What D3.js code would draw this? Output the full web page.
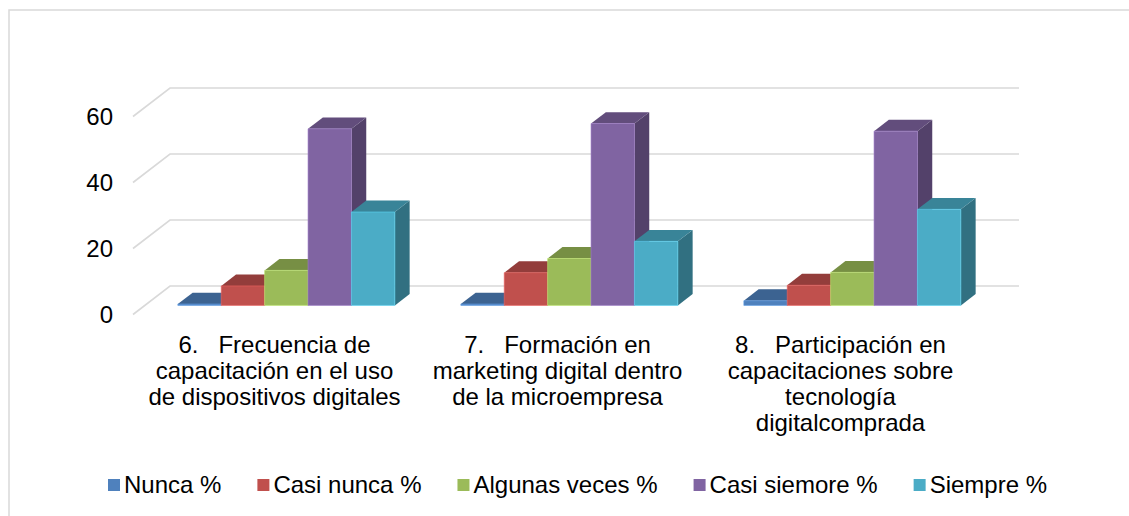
<!DOCTYPE html>
<html>
<head>
<meta charset="utf-8">
<script src="https://cdn.jsdelivr.net/npm/d3@7/dist/d3.min.js"></script>
<style>
  body { margin: 0; background: #fff; }
  svg { display: block; }
  text { font-family: "Liberation Sans", Arial, sans-serif; font-size: 24px; fill: #000; }
</style>
</head>
<body>
<div id="chart"></div>
<script>
// categories, one entry per line of the wrapped label
var categories = [
    ["6.\u00a0\u00a0\u00a0Frecuencia de", "capacitación en el uso", "de dispositivos digitales"],
    ["7.\u00a0\u00a0\u00a0Formación en", "marketing digital dentro", "de la microempresa"],
    ["8.\u00a0\u00a0\u00a0Participación en", "capacitaciones sobre", "tecnología", "digitalcomprada"]
]
var seriesNames = ["Nunca %", "Casi nunca %", "Algunas veces %", "Casi siemore %", "Siempre %"]

// values
var nunca        = [0.4, 0.4, 1.4]
var casiNunca    = [5.9, 9.9, 6.1]
var algunasVeces = [10.6, 14.2, 10.0]
var casiSiempre  = [53.5, 55.1, 52.8]
var siempre      = [28.3, 19.4, 29.1]

var yTicks = [0, 20, 40, 60]
var colors = ["#4F81BD", "#C0504D", "#9BBB59", "#8064A2", "#4BACC6"]

var seriesValues = [nunca, casiNunca, algunasVeces, casiSiempre, siempre]

var width = 1129, height = 516

// oblique 3d set-up
var floorY = 314.5           // front edge of the floor, value 0
var depthX = 37, depthY = -28.5
var barFront = 0.32, barBack = 0.72

var svg = d3.select("#chart").append("svg")
    .attr("width", width)
    .attr("height", height)

var x = d3.scaleBand()
    .domain(d3.range(categories.length))
    .range([133, 982])

var xInner = d3.scaleBand()
    .domain(seriesNames)
    .range([0, x.bandwidth()])
    .paddingOuter(0.76)

var y = d3.scaleLinear()
    .domain([0, 60])
    .range([0, 198])

function proj(px, v, d) {
    return [px + d * depthX, floorY - y(v) + d * depthY]
}

// chart border
svg.append("rect")
    .attr("x", 9).attr("y", 10)
    .attr("width", width + 50).attr("height", height + 50)
    .attr("fill", "none")
    .attr("stroke", "#d9d9d9")
    .attr("stroke-width", 1.5)

var x0 = x.range()[0], x1 = x.range()[1]

// side wall and back wall gridlines
var grid = svg.append("g").attr("class", "grid")
grid.selectAll("path")
    .data(yTicks)
    .enter().append("path")
    .attr("d", function(v) {
        var a = proj(x0, v, 0), b = proj(x0, v, 1), c = proj(x1, v, 1)
        return "M" + a + "L" + b + "L" + c
    })
    .attr("fill", "none")
    .attr("stroke", "#d9d9d9")
    .attr("stroke-width", 1.6)

// y labels
svg.append("g").selectAll("text")
    .data(yTicks)
    .enter().append("text")
    .attr("x", x0 - 20)
    .attr("y", function(v) { return proj(x0, v, 0)[1] })
    .attr("dy", "0.35em")
    .attr("text-anchor", "end")
    .text(function(v) { return v })

// bars, drawn left to right so the later fronts hide earlier sides
var bars = []
categories.forEach(function(cat, ci) {
    seriesNames.forEach(function(s, si) {
        bars.push({ cat: ci, series: si, value: seriesValues[si][ci],
            x: x(ci) + xInner(s), w: xInner.bandwidth() })
    })
})

function poly(pts) { return pts.map(function(p) { return p.join(",") }).join(" ") }

var barG = svg.append("g").attr("class", "bars")
    .selectAll("g")
    .data(bars)
    .enter().append("g")

barG.append("polygon")
    .attr("points", function(d) {
        var r = d.x + d.w
        return poly([proj(r, 0, barFront), proj(r, d.value, barFront), proj(r, d.value, barBack), proj(r, 0, barBack)])
    })
    .attr("fill", function(d) { return d3.rgb(colors[d.series]).darker(1.2) })

barG.append("polygon")
    .attr("points", function(d) {
        return poly([proj(d.x, d.value, barFront), proj(d.x + d.w, d.value, barFront),
            proj(d.x + d.w, d.value, barBack), proj(d.x, d.value, barBack)])
    })
    .attr("fill", function(d) { return d3.rgb(colors[d.series]).darker(0.75) })

barG.append("polygon")
    .attr("points", function(d) {
        return poly([proj(d.x, 0, barFront), proj(d.x + d.w, 0, barFront),
            proj(d.x + d.w, d.value, barFront), proj(d.x, d.value, barFront)])
    })
    .attr("fill", function(d) { return colors[d.series] })
    .attr("stroke", function(d) { return d3.rgb(colors[d.series]).brighter(0.6) })
    .attr("stroke-width", 0.6)

// category labels
var labels = svg.append("g").attr("class", "cat-labels")
    .selectAll("text")
    .data(categories)
    .enter().append("text")
    .attr("text-anchor", "middle")

labels.selectAll("tspan")
    .data(function(lines, i) { return lines.map(function(l) { return { text: l, i: i } }) })
    .enter().append("tspan")
    .attr("x", function(d) { return x(d.i) + x.bandwidth() / 2 })
    .attr("y", function(d, j) { return 345 + j * 26 })
    .attr("dy", "0.35em")
    .text(function(d) { return d.text })

// legend
var legend = svg.append("g").attr("class", "legend")
var lx = 108
seriesNames.forEach(function(name, i) {
    legend.append("rect")
        .attr("x", lx).attr("y", 479)
        .attr("width", 12).attr("height", 12)
        .attr("fill", colors[i])
    var t = legend.append("text")
        .attr("x", lx + 16)
        .attr("y", 485)
        .attr("dy", "0.35em")
        .text(name)
    lx += 16 + t.node().getComputedTextLength() + 36
})
</script>
</body>
</html>
